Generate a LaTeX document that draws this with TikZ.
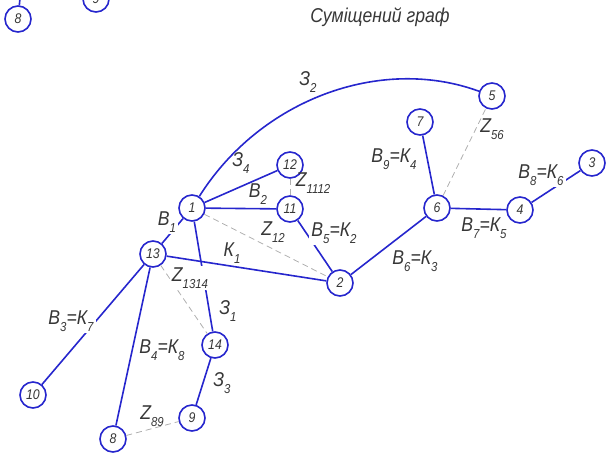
\documentclass[tikz,border=0pt]{standalone}
\usepackage{fontspec}
\setmainfont{Liberation Sans}
\newfontfamily\lblfont{Liberation Sans}[FakeStretch=0.88]
\newcommand\lsub[1]{\raisebox{-0.32em}{\fontsize{13}{13}\selectfont #1}}
\definecolor{gblue}{RGB}{38,38,205}
\definecolor{gtext}{RGB}{55,55,55}
\definecolor{gdash}{RGB}{175,175,175}
\tikzset{
  vtx/.style={circle, draw=gblue, line width=1.6pt, fill=white, minimum size=26pt, inner sep=0pt,
    font=\lblfont\itshape\fontsize{14}{14}\selectfont, text=gtext},
  edge/.style={draw=gblue, line width=1.6pt},
  zedge/.style={draw=gdash, line width=0.8pt, dash pattern=on 6pt off 4pt},
  lbl/.style={font=\lblfont\itshape\fontsize{20}{20}\selectfont, text=gtext, inner sep=1pt},
  gap/.style={fill=white, inner sep=2pt},
}
\begin{document}
\begin{tikzpicture}[x=1pt,y=-1pt]
\useasboundingbox (0,0) rectangle (608,456);
\clip (0,0) rectangle (608,456);
% title
\node[lbl] (title) at (380,17) {Суміщений граф};
% partial nodes at top left
\node[vtx] (t8) at (18,19) {8};
\node[vtx] (t9) at (96,-1) {9};
\coordinate (t8up) at (21,-12);
\draw[edge] (t8) -- (t8up);
% nodes
\node[vtx] (n1) at (192,208) {1};
\node[vtx] (n2) at (340,283) {2};
\node[vtx] (n3) at (592,163) {3};
\node[vtx] (n4) at (520,210) {4};
\node[vtx] (n5) at (492,96) {5};
\node[vtx] (n6) at (437,208) {6};
\node[vtx] (n7) at (420,122) {7};
\node[vtx] (n8) at (113,439) {8};
\node[vtx] (n9) at (192,418) {9};
\node[vtx] (n10) at (33,395) {10};
\node[vtx] (n11) at (290,209) {11};
\node[vtx] (n12) at (290,165) {12};
\node[vtx] (n13) at (153,254) {13};
\node[vtx] (n14) at (215,345) {14};
% solid edges
\draw[edge] (n1) .. controls (260,100) and (380,55) .. (n5);
\draw[edge] (n1) -- (n12);
\draw[edge] (n1) -- (n11);
\draw[edge] (n11) -- (n2);
\draw[edge] (n1) -- (n13);
\draw[edge] (n1) -- (n14);
\draw[edge] (n13) -- (n2);
\draw[edge] (n13) -- (n10);
\draw[edge] (n13) -- (n8);
\draw[edge] (n14) -- (n9);
\draw[edge] (n2) -- (n6);
\draw[edge] (n6) -- (n7);
\draw[edge] (n6) -- (n4);
\draw[edge] (n4) -- (n3);
% dashed edges
\draw[zedge] (n12) -- (n11);
\draw[zedge] (n1) -- (n2);
\draw[zedge] (n13) -- (n14);
\draw[zedge] (n8) -- (n9);
\draw[zedge] (n6) -- (n5);
% labels
\node[lbl,gap] (l32) at (308,82) {З\lsub{2}};
\node[lbl] (l34) at (241,163) {З\lsub{4}};
\node[lbl] (lb2) at (258,194) {В\lsub{2}};
\node[lbl] (lz1112) at (313,183) {Z\lsub{1112}};
\node[lbl] (lz12) at (273,232) {Z\lsub{12}};
\node[lbl,gap] (lb5) at (334,233) {В\lsub{5}=К\lsub{2}};
\node[lbl] (lk1) at (232,253) {К\lsub{1}};
\node[lbl,gap] (lb1) at (167,222) {В\lsub{1}};
\node[lbl,gap] (lz1314) at (190,278) {Z\lsub{1314}};
\node[lbl] (l31) at (228,311) {З\lsub{1}};
\node[lbl] (l33) at (222,383) {З\lsub{3}};
\node[lbl,gap] (lb3) at (71,321) {В\lsub{3}=К\lsub{7}};
\node[lbl] (lb4) at (162,350) {В\lsub{4}=К\lsub{8}};
\node[lbl] (lz89) at (152,416) {Z\lsub{89}};
\node[lbl] (lb6) at (415,261) {В\lsub{6}=К\lsub{3}};
\node[lbl] (lb9) at (394,159) {В\lsub{9}=К\lsub{4}};
\node[lbl] (lz56) at (492,129) {Z\lsub{56}};
\node[lbl] (lb7) at (484,228) {В\lsub{7}=К\lsub{5}};
\node[lbl,gap] (lb8) at (541,175) {В\lsub{8}=К\lsub{6}};
\end{tikzpicture}
\end{document}
